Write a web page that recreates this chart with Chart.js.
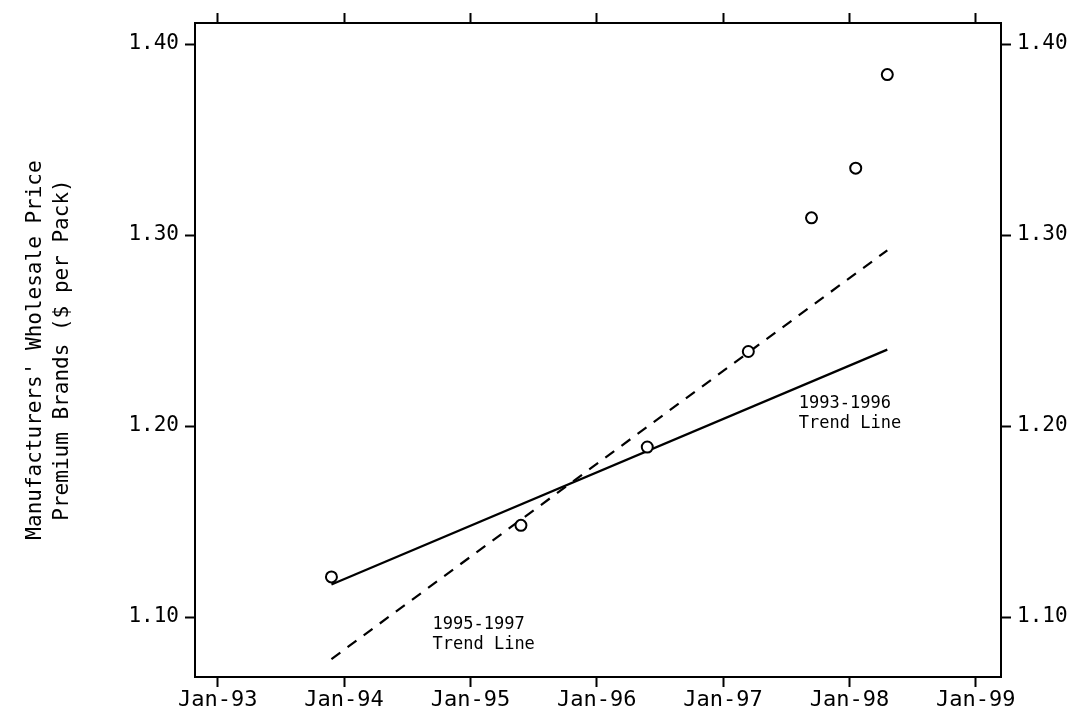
<!DOCTYPE html>
<html>
<head>
<meta charset="utf-8">
<script src="https://cdn.jsdelivr.net/npm/chart.js@4/dist/chart.umd.min.js"></script>
<style>
  html, body { margin: 0; padding: 0; background: #fff; }
  canvas { display: block; }
</style>
</head>
<body>
<canvas id="precio" width="1083" height="719"></canvas>
<script>
// datos (fecha en años decimales, precio en $ por paquete)
const fechas = [1993.9, 1995.4, 1996.4, 1997.2, 1997.7, 1998.05, 1998.3];
const precios = [1.121, 1.148, 1.189, 1.239, 1.309, 1.335, 1.384];

const tendencia9396X = [1993.9, 1998.3];
const tendencia9396Y = [1.117, 1.240];
const tendencia9597X = [1993.9, 1998.3];
const tendencia9597Y = [1.078, 1.292];

const anios = [1993, 1994, 1995, 1996, 1997, 1998, 1999];
const ticksPrecio = [1.10, 1.20, 1.30, 1.40];

const etiquetas = [
  { x: 1997.6, y: 1.212, lineas: ['1993-1996', 'Trend Line'] },
  { x: 1994.7, y: 1.096, lineas: ['1995-1997', 'Trend Line'] }
];

const fuente = "'DejaVu Sans Mono', monospace";

function puntos(xs, ys) {
  return xs.map((x, i) => ({ x: x, y: ys[i] }));
}

const ejeX = {
  type: 'linear',
  min: 1992.82,
  max: 1999.2,
  afterBuildTicks: (scale) => { scale.ticks = anios.map(v => ({ value: v })); },
  grid: { drawOnChartArea: false, color: '#000', tickLength: 10, tickWidth: 2 },
  border: { color: '#000', width: 2 }
};

const ejeY = {
  type: 'linear',
  min: 1.0686,
  max: 1.411,
  afterBuildTicks: (scale) => { scale.ticks = ticksPrecio.map(v => ({ value: v })); },
  grid: { drawOnChartArea: false, color: '#000', tickLength: 10, tickWidth: 2 },
  border: { color: '#000', width: 2 }
};

// textos de anotacion, ubicados con las escalas
const textos = {
  id: 'textos',
  afterDatasetsDraw(chart) {
    const ctx = chart.ctx;
    const sx = chart.scales.x;
    const sy = chart.scales.y;
    ctx.save();
    ctx.fillStyle = '#000';
    ctx.font = "17px " + fuente;
    ctx.textAlign = 'left';
    ctx.textBaseline = 'middle';
    etiquetas.forEach(e => {
      const px = sx.getPixelForValue(e.x);
      const py = sy.getPixelForValue(e.y);
      e.lineas.forEach((l, i) => ctx.fillText(l, px, py + i * 20));
    });
    ctx.restore();
  }
};

const ctx = document.getElementById('precio').getContext('2d');

new Chart(ctx, {
  type: 'scatter',
  data: {
    datasets: [
      {
        data: puntos(fechas, precios),
        pointStyle: 'circle',
        pointRadius: 5.5,
        pointBorderWidth: 2,
        pointBackgroundColor: '#fff',
        pointBorderColor: '#000',
        order: 0
      },
      {
        type: 'line',
        data: puntos(tendencia9396X, tendencia9396Y),
        borderColor: '#000',
        borderWidth: 2.2,
        pointRadius: 0,
        order: 1
      },
      {
        type: 'line',
        data: puntos(tendencia9597X, tendencia9597Y),
        borderColor: '#000',
        borderWidth: 2.2,
        borderDash: [11, 9],
        pointRadius: 0,
        order: 1
      }
    ]
  },
  options: {
    responsive: false,
    animation: false,
    layout: { padding: 0 },
    plugins: {
      legend: { display: false },
      tooltip: { enabled: false }
    },
    scales: {
      x: Object.assign({}, ejeX, {
        position: 'bottom',
        ticks: {
          color: '#000',
          font: { family: fuente, size: 22 },
          padding: 0,
          maxRotation: 0,
          callback: (v) => 'Jan-' + String(v).slice(2)
        },
        afterFit: (s) => { s.height = 42; }
      }),
      x2: Object.assign({}, ejeX, {
        position: 'top',
        ticks: { display: true, callback: () => '', padding: 0 },
        afterFit: (s) => { s.height = 23; }
      }),
      y: Object.assign({}, ejeY, {
        position: 'left',
        ticks: {
          color: '#000',
          font: { family: fuente, size: 21 },
          padding: 6,
          callback: (v) => v.toFixed(2)
        },
        title: {
          display: true,
          text: ["Manufacturers' Wholesale Price", 'Premium Brands ($ per Pack)'],
          color: '#000',
          font: { family: fuente, size: 21, lineHeight: 1.3 },
          padding: { top: 22, bottom: 18 }
        },
        afterFit: (s) => { s.width = 195; }
      }),
      y2: Object.assign({}, ejeY, {
        position: 'right',
        ticks: {
          color: '#000',
          font: { family: fuente, size: 21 },
          padding: 6,
          callback: (v) => v.toFixed(2)
        },
        afterFit: (s) => { s.width = 82; }
      })
    }
  },
  plugins: [textos]
});
</script>
</body>
</html>
